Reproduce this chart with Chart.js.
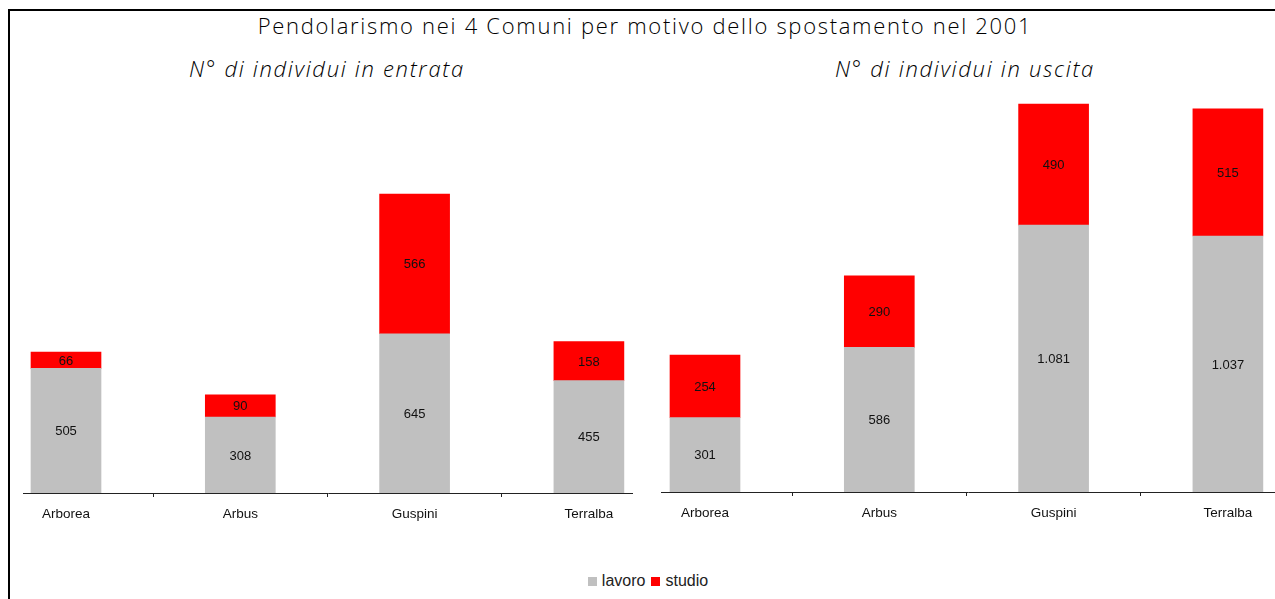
<!DOCTYPE html>
<html>
<head>
<meta charset="utf-8">
<script src="https://cdn.jsdelivr.net/npm/chart.js@4.4.1/dist/chart.umd.min.js"></script>
<style>
  html, body { margin: 0; padding: 0; background: #fff; }
  body { width: 1275px; height: 599px; position: relative; overflow: hidden; }
  #frame { position: absolute; left: 8px; top: 9px; width: 1400px; height: 700px;
           border-top: 2px solid #000; border-left: 2px solid #000; }
  .txt { position: absolute; white-space: nowrap; font-family: "Open Sans", sans-serif; font-weight: 300; color: #000; }
  #title { left: 0; width: 1290px; top: 10px; text-align: center; font-size: 22px; letter-spacing: 1.7px; }
  .sub { top: 53px; width: 600px; text-align: center; font-size: 22px; font-style: italic; letter-spacing: 1.7px; }
  #sub1 { left: 27px; }
  #sub2 { left: 665px; }
  canvas { position: absolute; }
  #left { left: 23px; top: 98px; }
  #right { left: 661px; top: 97px; }
  #legend { position: absolute; top: 572px; left: 0; width: 1296px; text-align: center;
            font-family: "Liberation Sans", Arial, sans-serif; font-size: 16px; color: #222; }
  #legend span.box { display: inline-block; width: 9px; height: 9px; margin-right: 5px; vertical-align: 0px; }
  #legend span.item { margin: 0 3px; }
</style>
</head>
<body>
<div id="frame"></div>
<div id="title" class="txt">Pendolarismo nei 4 Comuni per motivo dello spostamento nel 2001</div>
<div id="sub1" class="txt sub">N° di individui in entrata</div>
<div id="sub2" class="txt sub">N° di individui in uscita</div>
<canvas id="left" width="610" height="425"></canvas>
<canvas id="right" width="614" height="425"></canvas>
<div id="legend"></div>
<script>
const comuni = ["Arborea", "Arbus", "Guspini", "Terralba"];
const seriesNames = ["lavoro", "studio"];
const seriesColors = ["#C0C0C0", "#FF0000"];

const entrataLavoro = [505, 308, 645, 455];
const entrataStudio = [66, 90, 566, 158];
const uscitaLavoro = [301, 586, 1081, 1037];
const uscitaStudio = [254, 290, 490, 515];

const tickPositions = [0, 0.5, 1, 1.5, 2, 2.5, 3];

function formatNum(v) {
  return String(v).replace(/\B(?=(\d{3})+(?!\d))/g, ".");
}

const valueLabels = {
  id: "valueLabels",
  afterDatasetsDraw(chart) {
    const ctx = chart.ctx;
    ctx.save();
    ctx.font = '13px "Liberation Sans", Arial, sans-serif';
    ctx.fillStyle = "#111";
    ctx.textAlign = "center";
    ctx.textBaseline = "middle";
    chart.data.datasets.forEach((ds, di) => {
      const meta = chart.getDatasetMeta(di);
      meta.data.forEach((bar, i) => {
        const p = bar.getProps(["x", "y", "base"], true);
        ctx.fillText(formatNum(ds.data[i].y), p.x, (p.y + p.base) / 2 + 1);
      });
    });
    ctx.restore();
  }
};

function makeChart(id, lavoro, studio, xMin, xMax) {
  const series = [lavoro, studio];
  return new Chart(document.getElementById(id), {
    type: "bar",
    data: {
      datasets: series.map((vals, s) => ({
        label: seriesNames[s],
        data: vals.map((v, i) => ({ x: i, y: v })),
        backgroundColor: seriesColors[s],
        barThickness: 70
      }))
    },
    options: {
      responsive: false,
      animation: false,
      devicePixelRatio: 1,
      layout: { padding: 0 },
      plugins: {
        legend: { display: false },
        tooltip: { enabled: false },
        title: { display: false }
      },
      scales: {
        x: {
          type: "linear",
          stacked: true,
          offset: false,
          min: xMin,
          max: xMax,
          afterBuildTicks(scale) {
            scale.ticks = tickPositions.map(v => ({ value: v }));
          },
          afterFit(scale) {
            scale.height = 30;
          },
          border: { display: true, color: "#222", width: 1 },
          grid: {
            offset: false,
            drawOnChartArea: false,
            drawTicks: true,
            tickLength: 4,
            color: c => (c.tick && Number.isInteger(c.tick.value)) ? "rgba(0,0,0,0)" : "#222"
          },
          ticks: {
            autoSkip: false,
            maxRotation: 0,
            padding: 9,
            color: "#111",
            font: { family: '"Liberation Sans", Arial, sans-serif', size: 13.5 },
            callback: v => Number.isInteger(v) ? comuni[v] : ""
          }
        },
        y: {
          stacked: true,
          display: false,
          min: 0,
          max: 1600
        }
      }
    },
    plugins: [valueLabels]
  });
}

const spacing = 174.3;
makeChart("left", entrataLavoro, entrataStudio, (23 - 66) / spacing, (633 - 66) / spacing);
makeChart("right", uscitaLavoro, uscitaStudio, (661 - 705) / spacing, (1275 - 705) / spacing);

const legend = document.getElementById("legend");
legend.innerHTML = seriesNames.map((n, s) =>
  `<span class="item"><span class="box" style="background:${seriesColors[s]}"></span>${n}</span>`
).join("");
</script>
</body>
</html>
